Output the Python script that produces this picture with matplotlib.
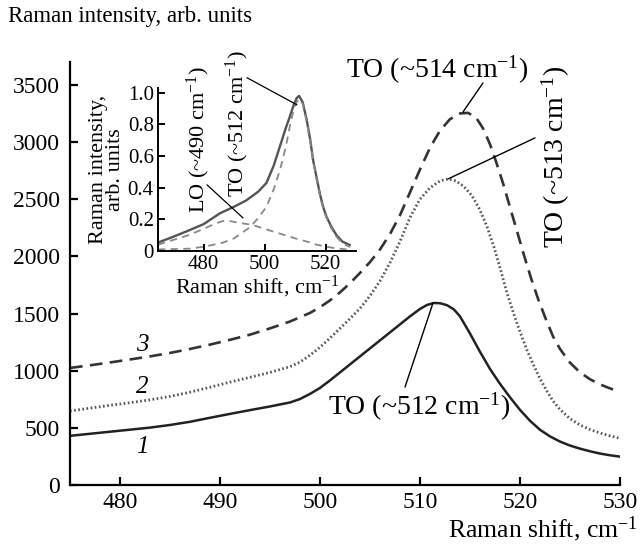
import numpy as np
import matplotlib.pyplot as plt

plt.rcParams['font.family'] = ['Liberation Serif', 'DejaVu Serif']
plt.rcParams['mathtext.fontset'] = 'custom'
plt.rcParams['mathtext.rm'] = 'Liberation Serif'
plt.rcParams['mathtext.it'] = 'Liberation Serif:italic'

# --- main spectra ---
shift_1 = [475, 477, 479, 481, 483, 485, 487, 489, 491, 493, 495, 497, 498, 499, 500, 501,
           502, 503, 504, 505, 506, 507, 508, 509, 510, 510.7, 511.4, 512, 512.7, 513.4,
           514, 515, 516, 517, 518, 519, 520, 521, 522, 523, 524, 525, 526, 527, 528,
           529, 530]
int_1 = [430, 448, 466, 484, 502, 525, 553, 588, 622, 655, 687, 722, 752, 797, 849, 915,
         985, 1055, 1125, 1195, 1265, 1335, 1405, 1475, 1540, 1575, 1592, 1590, 1573, 1535,
         1475, 1325, 1165, 1015, 885, 767, 657, 562, 483, 425, 380, 345, 318, 295, 275,
         260, 248]

shift_2 = [475, 477, 479, 481, 483, 485, 487, 489, 491, 493, 495, 497, 498, 499, 500, 501,
           502, 503, 504, 505, 506, 507, 508, 509, 510, 511, 512, 512.8, 513.6, 514.4,
           515.2, 516, 516.7, 517.4, 518, 518.7, 519.4, 520, 520.7, 521.4, 522, 522.7,
           523.3, 524, 525, 526, 527, 528, 529, 530]
int_2 = [647, 672, 697, 720, 745, 775, 812, 855, 900, 942, 985, 1035, 1075, 1135, 1205, 1285,
         1370, 1455, 1545, 1655, 1785, 1945, 2130, 2340, 2500, 2600, 2660, 2677, 2660, 2610,
         2530, 2406, 2260, 2080, 1900, 1680, 1490, 1340, 1180, 1040, 930, 820,
         735, 660, 580, 525, 485, 455, 430, 408]

shift_3 = [475, 477, 479, 481, 483, 485, 487, 489, 491, 493, 495, 497, 499, 500, 501, 502,
           503, 504, 505, 506, 507, 508, 509, 510, 511, 512, 513, 514, 514.8, 515.6, 516.3,
           517, 517.6, 518.3, 519, 519.7, 520.4, 521.1, 521.8, 522.5, 523.3, 524, 525, 526,
           527, 528, 529, 530]
int_3 = [1024, 1047, 1072, 1098, 1125, 1155, 1190, 1228, 1270, 1315, 1370, 1430, 1505, 1555,
         1615, 1685, 1765, 1855, 1950, 2060, 2195, 2360, 2560, 2760, 2950, 3100, 3200, 3250,
         3255, 3215, 3120, 2980, 2830, 2640, 2430, 2220, 2010, 1810, 1630, 1470, 1300,
         1190, 1070, 985, 925, 880, 845, 815]

# --- inset: normalised spectrum and its two components ---
ins_shift = [465, 470, 475.5, 480, 485.3, 490, 494, 497.9, 500.6, 503, 505, 507, 508.3,
             509.5, 510.5, 511.3, 512.5, 513.8, 515, 515.9, 517, 518.1, 519.2, 520.3, 522,
             523.6, 525.5, 527.9]
ins_total = [0.053, 0.09, 0.133, 0.17, 0.238, 0.28, 0.32, 0.375, 0.43, 0.54, 0.66, 0.78,
             0.85, 0.92, 0.966, 0.98, 0.94, 0.83, 0.7, 0.576, 0.47, 0.365, 0.28, 0.217,
             0.15, 0.10, 0.06, 0.038]

to_shift = [465, 470, 475.5, 481, 486.3, 490, 495.2, 498, 500.6, 503, 505, 507, 508.3,
            509.5, 510.5, 511.3, 512.5, 513.8, 515, 516, 517, 518.1, 519.2, 520.3, 522,
            523.6, 525.5, 528]
to_int = [0.01, 0.012, 0.015, 0.03, 0.053, 0.08, 0.15, 0.21, 0.28, 0.39, 0.51, 0.66, 0.79,
          0.89, 0.94, 0.96, 0.93, 0.82, 0.69, 0.565, 0.46, 0.355, 0.27, 0.21, 0.14, 0.09,
          0.05, 0.025]

lo_shift = [465, 470, 475, 480, 484, 486.5, 488.4, 491, 496, 500, 505, 510, 513.8, 517,
            520.3, 523, 526.9]
lo_int = [0.04, 0.07, 0.10, 0.14, 0.175, 0.19, 0.19, 0.18, 0.165, 0.14, 0.11, 0.08, 0.06,
          0.04, 0.027, 0.018, 0.01]

xticks_main = [480, 490, 500, 510, 520, 530]
yticks_main = [0, 500, 1000, 1500, 2000, 2500, 3000, 3500]
xticks_ins = [480, 500, 520]
yticks_ins = [0, 0.2, 0.4, 0.6, 0.8, 1.0]
ytick_ins_labels = ['0', '0.2', '0.4', '0.6', '0.8', '1.0']

W, H = 641, 545
fig = plt.figure(figsize=(W / 100, H / 100), dpi=100)
ax = fig.add_axes([70 / W, 1 - 485 / H, 550 / W, 423 / H])

ax.plot(shift_1, int_1, color='#222222', lw=1.8, ls='-')
ax.plot(shift_2, int_2, color='#555555', lw=2.0, ls=(0, (0.6, 0.9)))
ax.plot(shift_3, int_3, color='#333333', lw=1.9, ls=(0, (4.8, 2.8)))

ax.set_xlim(475, 530)
ax.set_ylim(0, 3700)
ax.set_xticks(xticks_main)
ax.set_yticks(yticks_main)
for s in ['top', 'right']:
    ax.spines[s].set_visible(False)
for s in ['left', 'bottom']:
    ax.spines[s].set_linewidth(1.6)
ax.tick_params(direction='in', length=6, width=1.6, labelsize=17, pad=5)
ax.tick_params(axis='y', pad=7)

fig.text(8 / W, 1 - 6 / H, 'Raman intensity, arb. units', fontsize=16.5, ha='left', va='top')
fig.text(1 - 3 / W, 1 / H, 'Raman shift, cm$^{-1}$', fontsize=18.5, ha='right', va='bottom')

# curve numbers
for lab, yv in [('3', 1225), ('2', 857), ('1', 332)]:
    ax.text(482.2, yv, lab, fontsize=18, style='italic', ha='center', va='center')

# peak labels with leader lines
ax.text(511.7, 3631, 'TO (~514 cm$^{-1}$)', fontsize=20, ha='center', va='center')
ax.annotate('', xy=(514.3, 3263), xytext=(516.3, 3517),
            arrowprops=dict(arrowstyle='-', lw=1.0, color='black', shrinkA=0, shrinkB=0))
ax.text(523.6, 2073, 'TO (~513 cm$^{-1}$)', fontsize=20, rotation=90, ha='center', va='bottom')
ax.annotate('', xy=(512.8, 2677), xytext=(521.5, 3036),
            arrowprops=dict(arrowstyle='-', lw=1.0, color='black', shrinkA=0, shrinkB=0))
ax.text(509.9, 682, 'TO (~512 cm$^{-1}$)', fontsize=20, ha='center', va='center')
ax.annotate('', xy=(511.3, 1592), xytext=(508.5, 857),
            arrowprops=dict(arrowstyle='-', lw=1.0, color='black', shrinkA=0, shrinkB=0))

# --- inset ---
ins = fig.add_axes([158 / W, 1 - 251 / H, 198 / W, 163 / H])
ins.patch.set_alpha(0)
ins.plot(ins_shift, ins_total, color='#555555', lw=1.7)
ins.plot(to_shift, to_int, color='#888888', lw=1.3, ls=(0, (4, 3)))
ins.plot(lo_shift, lo_int, color='#888888', lw=1.3, ls=(0, (4, 3)))
ins.set_xlim(465, 530)
ins.set_ylim(0, 1.03)
ins.set_xticks(xticks_ins)
ins.set_yticks(yticks_ins)
ins.set_yticklabels(ytick_ins_labels)
for s in ['top', 'right']:
    ins.spines[s].set_visible(False)
for s in ['left', 'bottom']:
    ins.spines[s].set_linewidth(1.4)
ins.tick_params(direction='in', length=5, width=1.4, labelsize=15, pad=3)
ins.set_xlabel('Raman shift, cm$^{-1}$', fontsize=16, labelpad=0)
ins.set_ylabel('Raman intensity,\narb. units', fontsize=16, labelpad=2, linespacing=0.85)

ins.text(478.1, 0.24, 'LO (~490 cm$^{-1}$)', fontsize=16, rotation=90, ha='center', va='bottom')
ins.annotate('', xy=(492.9, 0.209), xytext=(481.1, 0.418),
             arrowprops=dict(arrowstyle='-', lw=0.9, color='black', shrinkA=0, shrinkB=0))
ins.text(491.2, 0.342, 'TO (~512 cm$^{-1}$)', fontsize=16, rotation=90, ha='center', va='bottom')
ins.annotate('', xy=(510.6, 0.924), xytext=(494.2, 1.095),
             arrowprops=dict(arrowstyle='-', lw=0.9, color='black', shrinkA=0, shrinkB=0))

fig.savefig('out.png', dpi=100)
